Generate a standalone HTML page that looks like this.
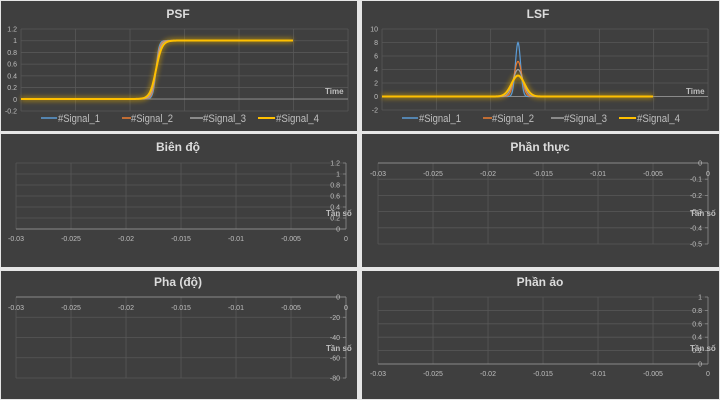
<!DOCTYPE html>
<html><head><meta charset="utf-8"><style>
html,body{margin:0;padding:0;background:#e6e6e6;}
svg{display:block;}
text{font-family:"Liberation Sans","DejaVu Sans",sans-serif;fill:#bfbfbf;}
.t{font-size:12px;font-weight:bold;fill:#dcdcdc;text-anchor:middle;}
.a{font-size:7px;}
.b{font-size:8px;font-weight:bold;}
.l{font-size:11px;}
</style></head><body>
<svg id="s" width="720" height="400" xmlns="http://www.w3.org/2000/svg">
<defs><filter id="g" x="-20%" y="-50%" width="140%" height="200%"><feGaussianBlur stdDeviation="2.2"/></filter></defs>
<rect x="0" y="0" width="720" height="400" fill="#e6e6e6"/>
<rect x="1" y="1" width="356" height="130" fill="#3f3f3f"/>
<rect x="362" y="1" width="357" height="130" fill="#3f3f3f"/>
<rect x="1" y="134" width="356" height="133" fill="#3f3f3f"/>
<rect x="362" y="134" width="357" height="133" fill="#3f3f3f"/>
<rect x="1" y="271" width="356" height="128" fill="#3f3f3f"/>
<rect x="362" y="271" width="357" height="128" fill="#3f3f3f"/>
<g id="grid" stroke="#585858" stroke-width="0.8" fill="none"></g>
<g id="curves" fill="none"></g>
<text class="t" x="178" y="18">PSF</text>
<text class="t" x="538" y="18">LSF</text>
<text class="t" x="178" y="151">Biên độ</text>
<text class="t" x="540" y="151">Phần thực</text>
<text class="t" x="178" y="286">Pha (độ)</text>
<text class="t" x="540" y="286">Phần ảo</text>
<g id="lab" class="a"></g>
<text class="b" x="325" y="94">Time</text>
<text class="b" x="686" y="94">Time</text>
<text class="b" x="326" y="216">Tần số</text>
<text class="b" x="690" y="216">Tần số</text>
<text class="b" x="326" y="351">Tần số</text>
<text class="b" x="690" y="351">Tần số</text>
<g class="l">
<line x1="41" y1="118" x2="57" y2="118" stroke="#5b9bd5" stroke-width="1.5"/><text x="58" y="122" textLength="42" lengthAdjust="spacingAndGlyphs">#Signal_1</text>
<line x1="122" y1="118" x2="131" y2="118" stroke="#ed7d31" stroke-width="1.5"/><text x="131" y="122" textLength="42" lengthAdjust="spacingAndGlyphs">#Signal_2</text>
<line x1="190" y1="118" x2="203" y2="118" stroke="#a5a5a5" stroke-width="1.5"/><text x="203" y="122" textLength="43" lengthAdjust="spacingAndGlyphs">#Signal_3</text>
<line x1="258" y1="118" x2="275" y2="118" stroke="#ffc000" stroke-width="2"/><text x="276" y="122" textLength="43" lengthAdjust="spacingAndGlyphs">#Signal_4</text>
<line x1="402" y1="118" x2="418" y2="118" stroke="#5b9bd5" stroke-width="1.5"/><text x="419" y="122" textLength="42" lengthAdjust="spacingAndGlyphs">#Signal_1</text>
<line x1="483" y1="118" x2="492" y2="118" stroke="#ed7d31" stroke-width="1.5"/><text x="492" y="122" textLength="42" lengthAdjust="spacingAndGlyphs">#Signal_2</text>
<line x1="551" y1="118" x2="564" y2="118" stroke="#a5a5a5" stroke-width="1.5"/><text x="564" y="122" textLength="43" lengthAdjust="spacingAndGlyphs">#Signal_3</text>
<line x1="619" y1="118" x2="636" y2="118" stroke="#ffc000" stroke-width="2"/><text x="637" y="122" textLength="43" lengthAdjust="spacingAndGlyphs">#Signal_4</text>
</g>
</svg>
<script>
const NS="http://www.w3.org/2000/svg";
const grid=document.getElementById('grid'),lab=document.getElementById('lab'),cur=document.getElementById('curves');
function ln(x1,y1,x2,y2,c,w,p){const e=document.createElementNS(NS,'line');e.setAttribute('x1',x1);e.setAttribute('y1',y1);e.setAttribute('x2',x2);e.setAttribute('y2',y2);if(c)e.setAttribute('stroke',c);if(w)e.setAttribute('stroke-width',w);(p||grid).appendChild(e);}
function tx(x,y,s,a){const e=document.createElementNS(NS,'text');e.setAttribute('x',x);e.setAttribute('y',y);e.setAttribute('text-anchor',a||'end');e.textContent=s;lab.appendChild(e);}
function timeChart(x0,x1,yt,yb,labels,y0){
 for(let i=0;i<=6;i++){const x=x0+(x1-x0)*i/6;ln(x,yt,x,yb);}
 const n=labels.length-1;
 for(let i=0;i<=n;i++){const y=yt+(yb-yt)*i/n;ln(x0,y,x1,y);tx(x0-4,y+2.5,labels[i]);}
 ln(x0,y0,x1,y0,'#8a8a8a',1);
}
timeChart(21,348,29,111,['1.2','1','0.8','0.6','0.4','0.2','0','-0.2'],99);
timeChart(382,708,29,110,['10','8','6','4','2','0','-2'],96.5);
const xl=['-0.03','-0.025','-0.02','-0.015','-0.01','-0.005','0'];
function freqChart(x0,x1,yt,yb,labels,yx,xlY){
 for(let i=0;i<=6;i++){const x=x0+(x1-x0)*i/6;ln(x,yt,x,yb);tx(x,xlY,xl[i],'middle');}
 const n=labels.length-1;
 for(let i=0;i<=n;i++){const y=yt+(yb-yt)*i/n;ln(x0,y,x1,y);tx(x1-6,y+2.5,labels[i]);ln(x1-3,y,x1,y,'#8a8a8a',0.8);}
 ln(x1,yt,x1,yb,'#8a8a8a',0.8);ln(x0,yx,x1,yx,'#8a8a8a',1);
}
freqChart(16,346,163,229,['1.2','1','0.8','0.6','0.4','0.2','0'],229,241);
freqChart(378,708,163,244,['0','-0.1','-0.2','-0.3','-0.4','-0.5'],163,176);
freqChart(16,346,297,378,['0','-20','-40','-60','-80'],297,310);
freqChart(378,708,297,364,['1','0.8','0.6','0.4','0.2','0'],364,376);
function path(f,xa,xb){let d='';for(let x=xa;x<=xb;x+=0.5){d+=(d?'L':'M')+x.toFixed(1)+','+f(x).toFixed(2);}return d;}
function add(d,c,w,filt,op){const e=document.createElementNS(NS,'path');e.setAttribute('d',d);e.setAttribute('stroke',c);e.setAttribute('stroke-width',w);if(filt)e.setAttribute('filter','url(#g)');if(op)e.setAttribute('opacity',op);cur.appendChild(e);}
const cols=['#5b9bd5','#ed7d31','#a5a5a5','#ffc000'];
const ws=[3,3.8,4.6,6];
const psf=[],lsf=[];
for(let k=0;k<4;k++){
 const w=ws[k];
 psf.push(path(x=>99-58.5*0.5*(1+Math.tanh((x-156)/w)),21,293));
 const h=[8,5.2,4,3.1][k],s=[2.6,3.8,4.9,6.5][k];
 lsf.push(path(x=>96.5-6.75*h*Math.exp(-((x-518)**2)/(2*s*s)),382,653));
}
add(psf[3],'#d9a400',6,true,0.45);add(lsf[3],'#d9a400',6,true,0.45);
for(let k=0;k<4;k++){add(psf[k],cols[k],k==3?2:1.2);add(lsf[k],cols[k],k==3?2:1.2);}
</script>
</body></html>
